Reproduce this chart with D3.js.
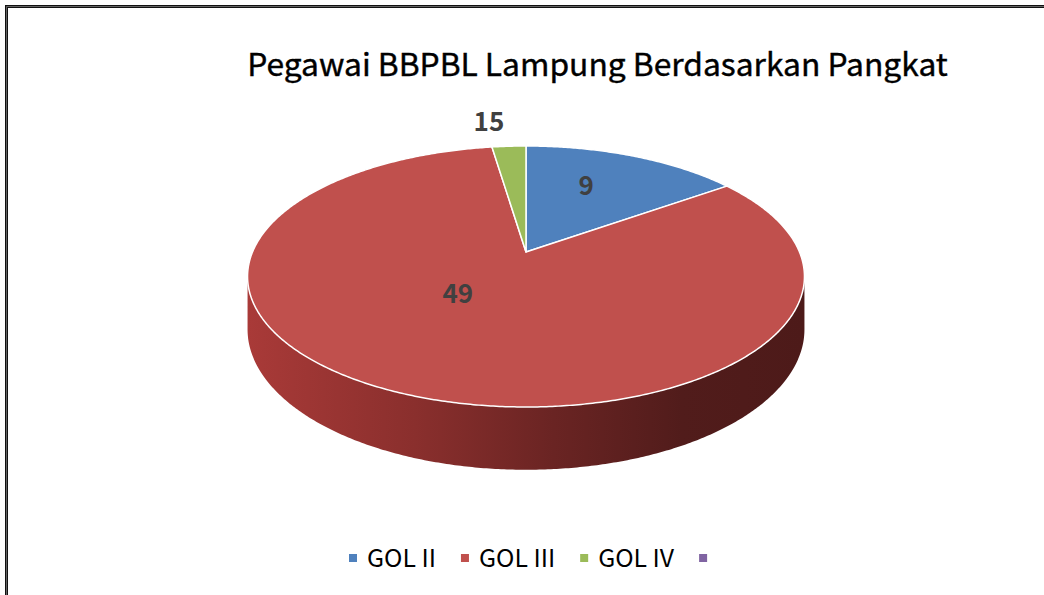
<!DOCTYPE html>
<html>
<head>
<meta charset="utf-8">
<script src="https://cdn.jsdelivr.net/npm/d3@7"></script>
<style>
  body { margin: 0; background: #fff; }
  svg { display: block; font-family: "Noto Sans CJK JP", "Noto Sans", sans-serif; }
</style>
</head>
<body>
<div id="chart"></div>
<script>
// data
const categories = ["GOL II", "GOL III", "GOL IV", ""];
const values = [9, 49, 1.4, 0];
const valueLabels = ["9", "49", "15", ""];
const colors = ["#4f81bd", "#c0504d", "#9bbb59", "#8064a2"];
const title = "Pegawai BBPBL Lampung Berdasarkan Pangkat";

const width = 1044, height = 595;

// 3d pie geometry (perspective)
const cx = 526, cy = 252;
const R = 273.5, Q = 125.9, persp = 0.1877, depth = 51;

const svg = d3.select("#chart").append("svg")
    .attr("width", width)
    .attr("height", height);

svg.append("rect").attr("width", width).attr("height", height).attr("fill", "#fff");

// frame (only top + left edge visible)
svg.append("path")
    .attr("d", `M6.5,${height} V6.5 H${width}`)
    .attr("fill", "none")
    .attr("stroke", "#111")
    .attr("stroke-width", 3);
svg.append("path")
    .attr("d", `M6.5,${height} V6.5 H${width}`)
    .attr("fill", "none")
    .attr("stroke", "#777")
    .attr("stroke-width", 0.8);

// project a point on the disk (angle clockwise from top, radius fraction, drop 0=top face 1=bottom)
function project(a, rho, drop) {
    const u = rho * Math.sin(a), v = rho * Math.cos(a);
    const w = 1 + persp * v;
    return [cx + R * u / w, cy - Q * v / w + drop * depth / w];
}

function rim(a0, a1, drop) {
    const n = Math.max(2, Math.ceil(Math.abs(a1 - a0) / (Math.PI / 360)));
    return d3.range(n + 1).map(i => project(a0 + (a1 - a0) * i / n, 1, drop));
}

const pie = d3.pie().sort(null).startAngle(0).endAngle(2 * Math.PI);
const arcs = pie(values);

// gradients for side walls
const defs = svg.append("defs");
colors.forEach((col, i) => {
    const g = defs.append("linearGradient")
        .attr("id", "side" + i)
        .attr("gradientUnits", "userSpaceOnUse")
        .attr("x1", cx - R * 1.02).attr("x2", cx + R * 1.02)
        .attr("y1", 0).attr("y2", 0);
    const stops = [[0, 0.88], [0.3, 0.72], [0.55, 0.55], [0.78, 0.42], [1, 0.4]];
    stops.forEach(([o, k]) => {
        const c = d3.rgb(col);
        g.append("stop").attr("offset", o)
            .attr("stop-color", d3.rgb(c.r * k, c.g * k * 0.82, c.b * k * 0.82));
    });
});

// side walls (front half only)
const frontLo = Math.acos(-persp), frontHi = 2 * Math.PI - Math.acos(-persp);
const line = d3.line();
arcs.forEach((d, i) => {
    const lo = Math.max(d.startAngle, frontLo), hi = Math.min(d.endAngle, frontHi);
    if (hi <= lo) return;
    const pts = rim(lo, hi, 0).concat(rim(hi, lo, 1));
    svg.append("path")
        .attr("d", line(pts) + "Z")
        .attr("fill", `url(#side${i})`);
});

// top face slices
arcs.forEach((d, i) => {
    if (d.value <= 0) return;
    const pts = [project(0, 0, 0)].concat(rim(d.startAngle, d.endAngle, 0));
    svg.append("path")
        .attr("d", line(pts) + "Z")
        .attr("fill", colors[i])
        .attr("stroke", "#fff")
        .attr("stroke-width", 1.5)
        .attr("stroke-linejoin", "round");
});

// value labels (best-fit placement nudges)
const labelPlace = [
    { da: -4.5, rho: 0.63 },
    { da: 14, rho: 0.39 },
    { da: -3.2, rho: 1.3 },
    { da: 0, rho: 0.5 }
];
arcs.forEach((d, i) => {
    if (!valueLabels[i]) return;
    const mid = (d.startAngle + d.endAngle) / 2 + labelPlace[i].da * Math.PI / 180;
    const [x, y] = project(mid, labelPlace[i].rho, 0);
    svg.append("text")
        .attr("x", x).attr("y", y)
        .attr("dy", "0.36em")
        .attr("text-anchor", "middle")
        .attr("font-size", 26)
        .attr("font-weight", "bold")
        .attr("fill", "#404040")
        .text(valueLabels[i]);
});

// title, fitted to the reference width
const titleText = svg.append("text")
    .attr("x", 597.5).attr("y", 76)
    .attr("text-anchor", "middle")
    .attr("font-size", 28)
    .attr("fill", "#000")
    .style("paint-order", "stroke")
    .attr("stroke", "#000")
    .attr("stroke-width", 0.4)
    .text(title);
const tw = titleText.node().getComputedTextLength();
titleText.attr("font-size", 28 * 701 / tw);

// legend
const legend = svg.append("g");
const probe = legend.append("text").attr("font-size", 23).text("GOL II");
const legendSize = 23 * 69 / probe.node().getComputedTextLength();
probe.remove();
let lx = 0;
categories.forEach((c, i) => {
    const g = legend.append("g").attr("transform", `translate(${lx},0)`);
    g.append("rect").attr("x", 0).attr("y", -4).attr("width", 8).attr("height", 8).attr("fill", colors[i]);
    const t = g.append("text")
        .attr("x", 18).attr("y", 0)
        .attr("dy", "0.36em")
        .attr("font-size", legendSize)
        .attr("fill", "#000")
        .text(c);
    const w = c ? t.node().getComputedTextLength() : 0;
    lx += 18 + w + 25;
});
legend.attr("transform", `translate(349,558)`);
</script>
</body>
</html>
